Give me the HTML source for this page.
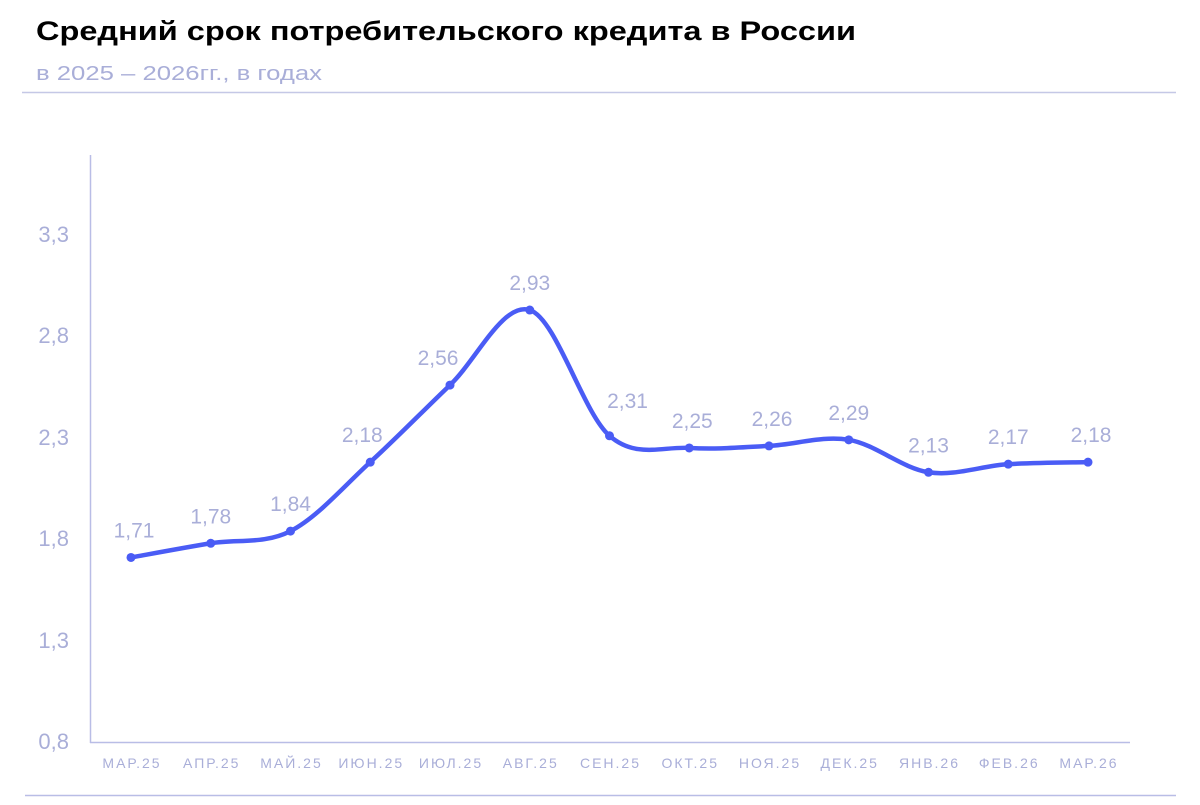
<!DOCTYPE html>
<html><head><meta charset="utf-8"><style>
body{margin:0;width:1200px;height:800px;background:#fff;overflow:hidden;font-family:"Liberation Sans",sans-serif}
</style></head><body>
<svg id="s" width="1200" height="800" xmlns="http://www.w3.org/2000/svg">
<text x="36" y="40" font-size="27" font-weight="bold" fill="#000" textLength="820" lengthAdjust="spacingAndGlyphs" font-family="Liberation Sans, sans-serif">Средний срок потребительского кредита в России</text>
<text x="36" y="80" font-size="20" fill="#a9aed8" textLength="286" lengthAdjust="spacingAndGlyphs" font-family="Liberation Sans, sans-serif">в 2025 – 2026гг., в годах</text>
<line x1="22" y1="92.5" x2="1176" y2="92.5" stroke="#c5c8e6" stroke-width="1.5"/>
<line x1="25" y1="795.5" x2="1176" y2="795.5" stroke="#b9bde6" stroke-width="1.5"/>
<line x1="90.5" y1="155" x2="90.5" y2="743" stroke="#b9bde6" stroke-width="1.5"/>
<line x1="90" y1="742.5" x2="1130" y2="742.5" stroke="#b9bde6" stroke-width="1.5"/>
<g font-size="22" fill="#a9aed8" text-anchor="end" font-family="Liberation Sans, sans-serif">
<text x="69" y="749">0,8</text><text x="69" y="648">1,3</text><text x="69" y="546">1,8</text>
<text x="69" y="445">2,3</text><text x="69" y="343">2,8</text><text x="69" y="242">3,3</text>
</g>
<g id="xl" font-size="14" fill="#a9aed8" text-anchor="middle" letter-spacing="2" font-family="Liberation Sans, sans-serif"></g>
<path id="p" fill="none" stroke="#4a5cf5" stroke-width="4.5" stroke-linejoin="round"/>
<g id="pts" fill="#4a5cf5"></g>
<g id="lb" font-size="21" fill="#a9aed8" text-anchor="middle" font-family="Liberation Sans, sans-serif"></g>
</svg>
<script>
var v=[1.71,1.78,1.84,2.18,2.56,2.93,2.31,2.25,2.26,2.29,2.13,2.17,2.18];
var m=["МАР.25","АПР.25","МАЙ.25","ИЮН.25","ИЮЛ.25","АВГ.25","СЕН.25","ОКТ.25","НОЯ.25","ДЕК.25","ЯНВ.26","ФЕВ.26","МАР.26"];
var off=[[3,0],[0,0],[0,0],[-8,0],[-12,0],[0,0],[18,0],[3,0],[3,0],[0,0],[0,0],[0,0],[3,0]];
var P=v.map(function(a,i){return [131+79.75*i,742-(a-0.8)*202.8]});
var ns="http://www.w3.org/2000/svg";
function el(t,at,par,txt){var e=document.createElementNS(ns,t);for(var k in at)e.setAttribute(k,at[k]);if(txt)e.textContent=txt;document.getElementById(par).appendChild(e);}
var d="M"+P[0][0]+","+P[0][1];
for(var i=0;i<P.length-1;i++){
var p0=P[Math.max(i-1,0)],p1=P[i],p2=P[i+1],p3=P[Math.min(i+2,P.length-1)];
var c1=[p1[0]+(p2[0]-p0[0])/6,p1[1]+(p2[1]-p0[1])/6],c2=[p2[0]-(p3[0]-p1[0])/6,p2[1]-(p3[1]-p1[1])/6];
d+=" C"+c1+" "+c2+" "+p2;}
document.getElementById("p").setAttribute("d",d);
P.forEach(function(p,i){
el("circle",{cx:p[0],cy:p[1],r:4.5},"pts");
el("text",{x:p[0]+off[i][0],y:p[1]-12-(i==6?8:0)-8},"lb",String(v[i]).replace(".",","));
el("text",{x:p[0]+1,y:768},"xl",m[i]);
});
</script>
</body></html>
